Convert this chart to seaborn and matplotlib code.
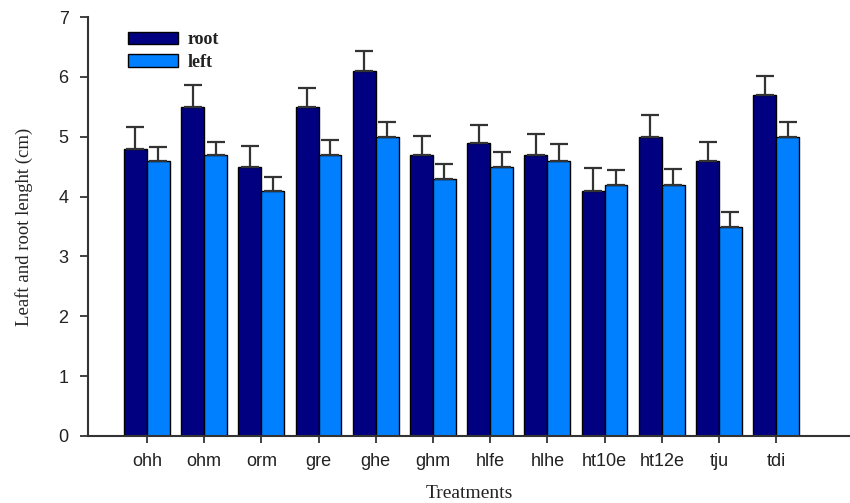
import matplotlib
matplotlib.use("Agg")
import matplotlib.pyplot as plt
import numpy as np
import pandas as pd
import seaborn as sns

treatments = ["ohh", "ohm", "orm", "gre", "ghe", "ghm", "hlfe", "hlhe",
              "ht10e", "ht12e", "tju", "tdi"]
root_len = [4.8, 5.5, 4.5, 5.5, 6.1, 4.7, 4.9, 4.7, 4.1, 5.0, 4.6, 5.7]
root_err = [0.37, 0.37, 0.35, 0.32, 0.33, 0.32, 0.30, 0.34, 0.38, 0.37, 0.32, 0.32]
left_len = [4.6, 4.7, 4.1, 4.7, 5.0, 4.3, 4.5, 4.6, 4.2, 4.2, 3.5, 5.0]
left_err = [0.22, 0.22, 0.23, 0.24, 0.24, 0.24, 0.25, 0.27, 0.24, 0.26, 0.24, 0.24]
series = ["root", "left"]
yticks = [0, 1, 2, 3, 4, 5, 6, 7]

df = pd.DataFrame({
    "Treatment": treatments * 2,
    "Length": root_len + left_len,
    "Part": ["root"] * len(treatments) + ["left"] * len(treatments),
})

sns.set_style("ticks")
palette = {"root": "#000080", "left": "#0080FF"}

fig = plt.figure(figsize=(8.5, 5.03), dpi=100)
ax = fig.add_axes([88 / 850, 1 - 436 / 503, 1 - 88 / 850, (436 - 17) / 503])

sns.barplot(data=df, x="Treatment", y="Length", hue="Part", hue_order=series,
            palette=palette, order=treatments, width=0.8, errorbar=None,
            edgecolor="black", linewidth=1.0, saturation=1, ax=ax)

# upper-only error bars at each bar centre
errs = {"root": root_err, "left": left_err}
vals = {"root": root_len, "left": left_len}
for cont, name in zip(ax.containers, series):
    xs = [p.get_x() + p.get_width() / 2 for p in cont.patches]
    e = np.array(errs[name])
    ax.errorbar(xs, vals[name], yerr=[np.zeros_like(e), e], fmt="none",
                ecolor="#333333", elinewidth=1.6, capsize=6.5, capthick=1.6,
                zorder=1)

ax.set_xlim(-1.03, 12.29)
ax.set_ylim(0, 7)
ax.set_yticks(yticks)
ax.set_yticklabels([str(v) for v in yticks])

for lbl in ax.get_xticklabels() + ax.get_yticklabels():
    lbl.set_fontfamily("Liberation Sans")
    lbl.set_fontsize(13)
    lbl.set_color("#222222")

ax.tick_params(axis="y", direction="out", length=6, width=1.3, pad=8, color="#333333")
ax.tick_params(axis="x", direction="out", length=5, width=1.3, pad=7, color="#333333")

for side in ["top", "right"]:
    ax.spines[side].set_visible(False)
for side in ["left", "bottom"]:
    ax.spines[side].set_linewidth(1.5)
    ax.spines[side].set_color("#333333")

ax.set_xlabel("Treatments", family="Liberation Serif", size=14, color="#222222",
              labelpad=11)
ax.set_ylabel("Leaft and root lenght (cm)", family="Liberation Serif", size=13.5,
              color="#222222", labelpad=18)

handles, labels = ax.get_legend_handles_labels()
leg = ax.legend(handles, labels, loc="upper left",
                bbox_to_anchor=(0.04, 0.987), frameon=False, borderpad=0,
                handlelength=2.8, handleheight=0.7, labelspacing=0.3,
                handletextpad=0.55, prop={"family": "Liberation Serif", "size": 13,
                                          "weight": "bold"})
for t in leg.get_texts():
    t.set_color("#222222")

fig.savefig("out.png", dpi=100)
